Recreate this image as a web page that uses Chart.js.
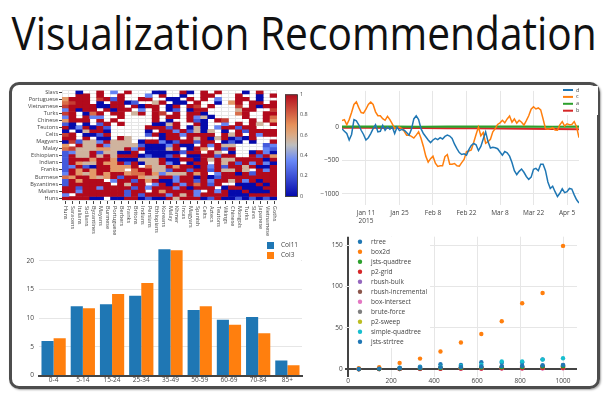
<!DOCTYPE html>
<html>
<head>
<meta charset="utf-8">
<script src="https://cdn.jsdelivr.net/npm/chart.js@4.4.0/dist/chart.umd.min.js"></script>
<style>
    html, body { margin: 0; padding: 0; background: #fff; }
    #page { position: relative; width: 606px; height: 395px; overflow: hidden; }
    #title { position: absolute; left: 304px; top: 10px; font: 45px/1 'Open Sans', sans-serif; color: #111; white-space: nowrap; transform-origin: 0 50%; }
    #frame { position: absolute; left: 9px; top: 82px; width: 585px; height: 301px; border: 3px solid #4d4d4d; border-radius: 10px; box-shadow: 1px 1px 2px rgba(0, 0, 0, 0.35); }
    canvas { position: absolute; }
</style>
</head>
<body>
<div id="page">
    <div id="title">Visualization Recommendation</div>
    <div id="frame"></div>
    <canvas id="heat" width="300" height="150" style="left:14px;top:86px"></canvas>
    <canvas id="line" width="292" height="145" style="left:306px;top:84px"></canvas>
    <canvas id="bars" width="292" height="152" style="left:14px;top:234px"></canvas>
    <canvas id="scatter" width="290" height="156" style="left:306px;top:230px"></canvas>
</div>
<script>
    // ---- heatmap (top left) ----
    const heatCols = ["Huns", "Saracens", "Italians", "Sicilians", "Byzantines", "Mayans", "Burmese", "Portuguese",
        "Berbers", "Franks", "Britons", "Indians", "Persians", "Ethiopians", "Koreans", "Malay", "Khmer", "Incas",
        "Magyars", "Spanish", "Celts", "Aztecs", "Teutons", "Vikings", "Chinese", "Mongols", "Turks", "Slavs",
        "Japanese", "Vietnamese", "Goths"];
    const heatRowNames = ["Slavs", "Portuguese", "Vietnamese", "Turks", "Chinese", "Teutons", "Celts", "Magyars",
        "Malay", "Ethiopians", "Indians", "Franks", "Burmese", "Byzantines", "Malians", "Huns"];
    // one string per row, one char per cell: digit = value * 9, "." = empty cell
    const heatRows = [
        "..0.. 9.3.9 ...00 ..90. 9.9.. .0.9. .",
        "..99. 9..9. ..3.9 ..0.. 99... 9..0. 9",
        "6999. 8929. .99.. 00.9. 9.3.. 99.0. .",
        "7899. 0.990 2..59 .00.9 ..0.6 9.99. 9",
        "89999 0099. 9099. 09.98 .9... 8.909 9",
        "39099 .9099 .3.9. 02.09 9.... 599.. 8",
        "89.07 9.99. 59.98 .9.99 0.... 79..9 9",
        "39.93 3..9. ...9. 99.93 50... .9..9 7",
        "6999. 9.9.. ...9. 0..92 0.98. ..9.9 6",
        "20.0. 29.9. ...00 59..9 0..3. 9.95. 9",
        "90390 92... ..999 29.05 0.399 299.. .",
        "0.059 90... ..0.9 93925 05.0. 92999 9",
        "89.00 29... ..290 99399 99.95 9.939 9",
        "99.9. 00.95 ....0 99.95 90590 209.. .",
        "08255 39555 .0993 02992 99.02 0.0.. 9",
        "6.955 93555 52000 3900. 93955 ....2 3",
        "78555 66559 39000 59.09 6.929 ....3 2",
        "23559 25500 9.000 00299 .95.0 ..093 0",
        "29559 59599 90200 29.00 99299 ..929 6",
        "29996 99600 05559 00990 95955 99990 9",
        "29655 96692 90559 30.09 9.959 29393 0",
        "23920 99666 9.755 96990 93929 95900 9",
        "29696 9966. 79955 29929 92955 95.93 9",
        "39656 96996 77963 55596 9.399 09299 9",
        "76996 56929 96559 93990 90299 99999 9",
        "29699 9.399 29690 03992 93995 93909 9",
        "29999 99.95 99.39 09397 929.. 00090 9",
        "99299 39999 29399 93909 99.09 90009 9",
        "99399 99992 99.96 99993 .9390 09000 9",
        "3.999 99992 92999 39593 99990 00999 9",
        "99990 0.009 90200 95999 02900 20202 0",
    ];
    const colorbarTicks = [0, 0.2, 0.4, 0.6, 0.8, 1];
    const heatScale = [
        [0, 5, 10, 172],
        [0.35, 106, 137, 247],
        [0.5, 190, 190, 190],
        [0.6, 220, 170, 132],
        [0.7, 230, 145, 90],
        [1, 178, 10, 28],
    ];

    // ---- line chart (top right), one value per day from 2015-01-01 ----
    const seriesD = [-24, -63, -97, -193, -111, 111, 92, 34, -48, -111,
        -193, -159, -97, -24, 34, -72, -63, 24, -48, 0,
        -34, 0, -97, 0, -53, -34, -48, -82, -121, -34,
        121, 169, 111, -24, -97, -145, -193, -232, -193, -169,
        -188, -159, -179, -140, -121, -135, -169, -256, -324, -382,
        -411, -401, -420, -338, -275, -246, -266, -353, -290, -179,
        -72, -217, -314, -304, -309, -324, -372, -420, -367, -386,
        -435, -531, -652, -710, -662, -628, -676, -739, -782, -749,
        -633, -618, -652, -555, -555, -652, -821, -918, -884, -966,
        -1038, -990, -923, -980, -966, -918, -927, -1014, -1087, -1135];
    const seriesC = [97, 111, 34, 111, 217, 338, 377, 290, 217, 208,
        266, 338, 372, 338, 227, 169, 169, 126, 101, 159,
        111, 48, -24, -5, 0, -24, -63, -121, -121, -140,
        -164, -121, -72, -169, -290, -435, -526, -473, -435, -541,
        -589, -580, -580, -444, -411, -555, -555, -546, -580, -584,
        -531, -483, -367, -357, -343, -232, -111, 0, -130, -82,
        -242, -217, -184, -72, -24, 39, 63, 101, 63, 121,
        164, 72, 121, 58, 101, 72, 29, 97, 169, 266,
        304, 270, 285, 256, 121, -24, -34, -24, -10, -43,
        -48, 34, 82, 14, 48, 34, 39, 82, 0, -159];
    const flatDays = [0, 11, 22, 33, 44, 55, 66, 77, 88, 99];
    const seriesA = [6, 5, 6, 4, 6, 7, 5, 6, 4, 5];
    const seriesB = [-10, -11, -13, -15, -17, -19, -21, -24, -28, -32];
    const lineTickDays = [10, 24, 38, 52, 66, 80, 94];
    const lineTickLabels = [["Jan 11", "2015"], "Jan 25", "Feb 8", "Feb 22", "Mar 8", "Mar 22", "Apr 5"];
    const lineTicksY = [-1000, -500, 0];
    const lineTickLabelsY = ["\u22121000", "\u2212500", "0"];

    // ---- grouped bars (bottom left) ----
    const ageGroups = ["0-4", "5-14", "15-24", "25-34", "35-49", "50-59", "60-69", "70-84", "85+"];
    const col11 = [6.0, 12.05, 12.4, 13.9, 22.0, 11.4, 9.7, 10.2, 2.6];
    const col3 = [6.5, 11.7, 14.2, 16.1, 21.8, 12.05, 8.85, 7.35, 1.8];
    const barTicksY = [0, 5, 10, 15, 20];

    // ---- scatter (bottom right) ----
    const pointCounts = [50, 145, 240, 335, 430, 525, 620, 715, 810, 905, 1000];
    const rtreeTimes = [0.4, 0.8, 1.3, 1.8, 2.3, 2.8, 3.3, 3.8, 4.3, 4.8, 5.0];
    const box2dTimes = [1.2, 2.4, 7.7, 12.9, 21.4, 32.3, 42.7, 58.1, 79.8, 92.3, 149.2];
    const jstsQuadtreeTimes = [0.2, 0.5, 0.8, 1.1, 1.4, 1.7, 2.0, 2.4, 2.8, 3.2, 3.6];
    const p2GridTimes = [0.1, 0.2, 0.4, 0.5, 0.7, 0.8, 1.0, 1.1, 1.3, 1.4, 1.6];
    const rbushBulkTimes = [0.2, 0.4, 0.7, 0.9, 1.2, 1.5, 1.8, 2.0, 2.3, 2.6, 2.9];
    const rbushIncrementalTimes = [0.3, 0.6, 1.0, 1.4, 1.8, 2.2, 2.6, 3.0, 3.4, 3.8, 4.2];
    const boxIntersectTimes = [0.1, 0.2, 0.3, 0.4, 0.5, 0.6, 0.7, 0.8, 0.9, 1.0, 1.1];
    const bruteForceTimes = [0.1, 0.3, 0.6, 0.9, 1.3, 1.7, 2.1, 2.6, 3.1, 3.6, 4.1];
    const p2SweepTimes = [0.1, 0.3, 0.5, 0.7, 0.9, 1.1, 1.3, 1.5, 1.7, 1.9, 2.1];
    const simpleQuadtreeTimes = [0.4, 0.9, 1.5, 2.2, 3.0, 4.0, 5.5, 9.3, 9.3, 11.7, 13.3];
    const jstsStrtreeTimes = [0.5, 1.0, 2.0, 3.2, 6.0, 5.2, 8.5, 8.0, 8.5, 12.0, 5.2];
    const scatterTicksX = [0, 200, 400, 600, 800, 1000];
    const scatterTicksY = [0, 50, 100, 150];

    const palette = ["#1f77b4", "#ff7f0e", "#2ca02c", "#d62728", "#9467bd", "#8c564b", "#e377c2", "#7f7f7f", "#bcbd22", "#17becf"];
    const GRID = "#e6e6e6";
    const INK = "#444";

    Chart.defaults.font.family = "'Open Sans', sans-serif";
    Chart.defaults.color = INK;
    Chart.defaults.animation = false;
    Chart.defaults.events = [];
    Chart.defaults.responsive = false;
    Chart.defaults.plugins.legend.display = false;
    Chart.defaults.plugins.tooltip.enabled = false;

    // squeeze the title to the width it has in the picture, centred on x = 304
    (function () {
        const title = document.getElementById("title");
        const w = title.offsetWidth;
        const k = 585 / w;
        title.style.transform = "translateX(" + (-w * k / 2) + "px) scaleX(" + k + ")";
    })();

    function heatColor(v) {
        for (let i = 1; i < heatScale.length; i++) {
            const a = heatScale[i - 1];
            const b = heatScale[i];
            if (v <= b[0]) {
                const t = (v - a[0]) / (b[0] - a[0]);
                const mix = (k) => Math.round(a[k] + (b[k] - a[k]) * t);
                return "rgb(" + mix(1) + "," + mix(2) + "," + mix(3) + ")";
            }
        }
        return "rgb(178,10,28)";
    }

    function fixedTicks(values) {
        return function (scale) {
            scale.ticks = values.map((v) => ({ value: v }));
        };
    }

    // legend drawn inside the plot, the way plotly puts it
    const boxLegend = {
        id: "boxLegend",
        afterDatasetsDraw(chart, args, opts) {
            const ctx = chart.ctx;
            ctx.save();
            if (opts.box) {
                ctx.fillStyle = "#fff";
                ctx.fillRect(opts.box[0], opts.box[1], opts.box[2], opts.box[3]);
            }
            ctx.font = opts.fontSpec;
            ctx.textAlign = "left";
            ctx.textBaseline = "middle";
            chart.data.datasets.forEach((ds, i) => {
                const y = opts.y + i * opts.dy;
                const color = ds.backgroundColor;
                if (opts.marker === "line") {
                    ctx.strokeStyle = color;
                    ctx.lineWidth = 2;
                    ctx.beginPath();
                    ctx.moveTo(opts.x, y);
                    ctx.lineTo(opts.x + 10, y);
                    ctx.stroke();
                } else if (opts.marker === "square") {
                    ctx.fillStyle = color;
                    ctx.fillRect(opts.x, y - 3.5, 7, 7);
                } else {
                    ctx.fillStyle = color;
                    ctx.beginPath();
                    ctx.arc(opts.x, y, 2.2, 0, Math.PI * 2);
                    ctx.fill();
                }
                ctx.fillStyle = INK;
                ctx.fillText(ds.label, opts.textX, y);
            });
            ctx.restore();
        },
    };

    // rotated column names and the colour bar of the heatmap
    const heatDecor = {
        id: "heatDecor",
        afterDraw(chart) {
            const { ctx, chartArea, scales } = chart;
            ctx.save();
            ctx.font = "5.5px 'Open Sans', sans-serif";
            ctx.fillStyle = INK;
            ctx.strokeStyle = INK;
            ctx.lineWidth = 1;
            heatCols.forEach((name, i) => {
                const x = Math.round(scales.x.getPixelForValue(i)) + 0.5;
                ctx.beginPath();
                ctx.moveTo(x, chartArea.bottom + 1);
                ctx.lineTo(x, chartArea.bottom + 4);
                ctx.stroke();
                ctx.save();
                ctx.translate(x, chartArea.bottom + 6);
                ctx.rotate(Math.PI / 2);
                ctx.textAlign = "left";
                ctx.textBaseline = "middle";
                ctx.fillText(name, 0, 0);
                ctx.restore();
            });

            const bx = chartArea.right + 8;
            const by = chartArea.top + 4;
            const bw = 12;
            const bh = chartArea.height - 8;
            const grad = ctx.createLinearGradient(0, by + bh, 0, by);
            heatScale.forEach((s) => grad.addColorStop(s[0], "rgb(" + s[1] + "," + s[2] + "," + s[3] + ")"));
            ctx.fillStyle = grad;
            ctx.fillRect(bx, by, bw, bh);
            ctx.strokeStyle = INK;
            ctx.strokeRect(bx + 0.5, by + 0.5, bw, bh);
            ctx.fillStyle = INK;
            ctx.textAlign = "left";
            ctx.textBaseline = "middle";
            colorbarTicks.forEach((v) => ctx.fillText(String(v), bx + bw + 3, by + bh * (1 - v)));
            ctx.restore();
        },
    };

    // heatmap: each cell is a floating bar [row, row + 1]
    const rowTickLabels = heatRows.map((_, i) => (i % 2 === 0 ? heatRowNames[i / 2] : ""));
    new Chart(document.getElementById("heat"), {
        type: "bar",
        data: {
            labels: heatCols,
            datasets: heatRows.map((row, r) => {
                const cells = row.replace(/ /g, "").split("");
                return {
                    data: cells.map((ch) => (ch === "." ? null : [r, r + 1])),
                    backgroundColor: cells.map((ch) => (ch === "." ? "rgba(0,0,0,0)" : heatColor(Number(ch) / 9))),
                    grouped: false,
                    categoryPercentage: 1,
                    barPercentage: 1,
                    borderWidth: 0,
                };
            }),
        },
        options: {
            layout: { padding: { top: 4, right: 37, left: 0, bottom: 0 } },
            scales: {
                x: {
                    offset: true,
                    grid: { offset: true, color: GRID, drawTicks: false },
                    border: { display: false },
                    ticks: { display: false },
                    afterFit: (s) => { s.height = 36; },
                },
                y: {
                    min: 0,
                    max: heatRows.length,
                    reverse: true,
                    weight: 0,
                    grid: { color: GRID, drawTicks: false },
                    border: { display: false },
                    ticks: { display: false },
                    afterBuildTicks: fixedTicks(heatRows.map((_, i) => i).concat([heatRows.length])),
                    afterFit: (s) => { s.width = 0; },
                },
                y2: {
                    type: "category",
                    position: "left",
                    labels: rowTickLabels,
                    offset: true,
                    weight: 1,
                    grid: {
                        drawOnChartArea: false,
                        tickLength: 3,
                        tickColor: (c) => (c.index % 2 ? "rgba(0,0,0,0)" : INK),
                    },
                    border: { display: false },
                    ticks: { autoSkip: false, padding: 1, font: { size: 5.5 } },
                    afterFit: (s) => { s.width = 48; },
                },
            },
        },
        plugins: [heatDecor],
    });

    // line chart
    new Chart(document.getElementById("line"), {
        type: "line",
        data: {
            datasets: [
                { label: "d", data: seriesD.map((v, i) => ({ x: i, y: v })), borderColor: palette[0], backgroundColor: palette[0], borderWidth: 1.5 },
                { label: "c", data: seriesC.map((v, i) => ({ x: i, y: v })), borderColor: palette[1], backgroundColor: palette[1], borderWidth: 1.5 },
                { label: "a", data: flatDays.map((d, i) => ({ x: d, y: seriesA[i] })), borderColor: palette[2], backgroundColor: palette[2], borderWidth: 2.2 },
                { label: "b", data: flatDays.map((d, i) => ({ x: d, y: seriesB[i] })), borderColor: palette[3], backgroundColor: palette[3], borderWidth: 2 },
            ],
        },
        options: {
            elements: { point: { radius: 0 }, line: { tension: 0 } },
            layout: { padding: { top: 3, right: 19, left: 0, bottom: 0 } },
            scales: {
                x: {
                    type: "linear",
                    min: 0,
                    max: 99,
                    grid: { color: GRID, drawTicks: false },
                    border: { display: false },
                    ticks: { font: { size: 6.5 }, padding: 4, callback: (v, i) => lineTickLabels[i] },
                    afterBuildTicks: fixedTicks(lineTickDays),
                    afterFit: (s) => { s.height = 24; },
                },
                y: {
                    min: -1165,
                    max: 540,
                    grid: { color: GRID, drawTicks: false },
                    border: { display: false },
                    ticks: { font: { size: 6.5 }, padding: 3, callback: (v, i) => lineTickLabelsY[i] },
                    afterBuildTicks: fixedTicks(lineTicksY),
                    afterFit: (s) => { s.width = 36; },
                },
            },
            plugins: {
                boxLegend: { box: [255, 2, 37, 29], marker: "line", x: 257, textX: 270, y: 6, dy: 6.9, fontSpec: "5.5px 'Open Sans', sans-serif" },
            },
        },
        plugins: [boxLegend],
    });

    // grouped bars
    new Chart(document.getElementById("bars"), {
        type: "bar",
        data: {
            labels: ageGroups,
            datasets: [
                { label: "Col11", data: col11, backgroundColor: palette[0] },
                { label: "Col3", data: col3, backgroundColor: palette[1] },
            ],
        },
        options: {
            datasets: { bar: { categoryPercentage: 0.83, barPercentage: 1 } },
            layout: { padding: { top: 4, right: 4, left: 0, bottom: 0 } },
            scales: {
                x: {
                    grid: { display: false, drawTicks: false },
                    border: { color: INK, width: 2 },
                    ticks: { font: { size: 6.5 }, padding: 1 },
                    afterFit: (s) => { s.height = 10.5; },
                },
                y: {
                    min: 0,
                    max: 23.1,
                    grid: { color: GRID, drawTicks: false },
                    border: { display: false },
                    ticks: { font: { size: 6.5 }, padding: 5 },
                    afterBuildTicks: fixedTicks(barTicksY),
                    afterFit: (s) => { s.width = 25; },
                },
            },
            plugins: {
                boxLegend: { box: [246, 4, 41, 24], marker: "square", x: 253, textX: 267, y: 11.5, dy: 10, fontSpec: "6.5px 'Open Sans', sans-serif" },
            },
        },
        plugins: [boxLegend],
    });

    // scatter of timings
    const scatterSeries = [
        ["rtree", rtreeTimes],
        ["box2d", box2dTimes],
        ["jsts-quadtree", jstsQuadtreeTimes],
        ["p2-grid", p2GridTimes],
        ["rbush-bulk", rbushBulkTimes],
        ["rbush-incremental", rbushIncrementalTimes],
        ["box-intersect", boxIntersectTimes],
        ["brute-force", bruteForceTimes],
        ["p2-sweep", p2SweepTimes],
        ["simple-quadtree", simpleQuadtreeTimes],
        ["jsts-strtree", jstsStrtreeTimes],
    ];
    const zeroLine = (c) => (c.tick && c.tick.value === 0 ? INK : GRID);
    const zeroWidth = (c) => (c.tick && c.tick.value === 0 ? 2 : 1);
    new Chart(document.getElementById("scatter"), {
        type: "scatter",
        data: {
            datasets: scatterSeries.map(([name, times], i) => ({
                label: name,
                data: pointCounts.map((n, j) => ({ x: n, y: times[j] })),
                backgroundColor: palette[i % palette.length],
                borderWidth: 0,
                pointRadius: 2.2,
            })),
        },
        options: {
            layout: { padding: { top: 6.7, right: 19, left: 0, bottom: 0 } },
            scales: {
                x: {
                    type: "linear",
                    min: -15,
                    max: 1065,
                    grid: { color: zeroLine, lineWidth: zeroWidth, drawTicks: false },
                    border: { display: false },
                    ticks: { font: { size: 6.5 }, padding: 1, callback: (v) => String(v) },
                    afterBuildTicks: fixedTicks(scatterTicksX),
                    afterFit: (s) => { s.height = 9.3; },
                },
                y: {
                    min: -9,
                    max: 160.3,
                    grid: { color: zeroLine, lineWidth: zeroWidth, drawTicks: false },
                    border: { display: false },
                    ticks: { font: { size: 6.5 }, padding: 2, callback: (v) => String(v) },
                    afterBuildTicks: fixedTicks(scatterTicksY),
                    afterFit: (s) => { s.width = 38.8; },
                },
            },
            plugins: {
                boxLegend: { box: [44, 7, 80, 111], marker: "dot", x: 54, textX: 65, y: 11.7, dy: 10, fontSpec: "6.5px 'Open Sans', sans-serif" },
            },
        },
        plugins: [boxLegend],
    });
</script>
</body>
</html>
